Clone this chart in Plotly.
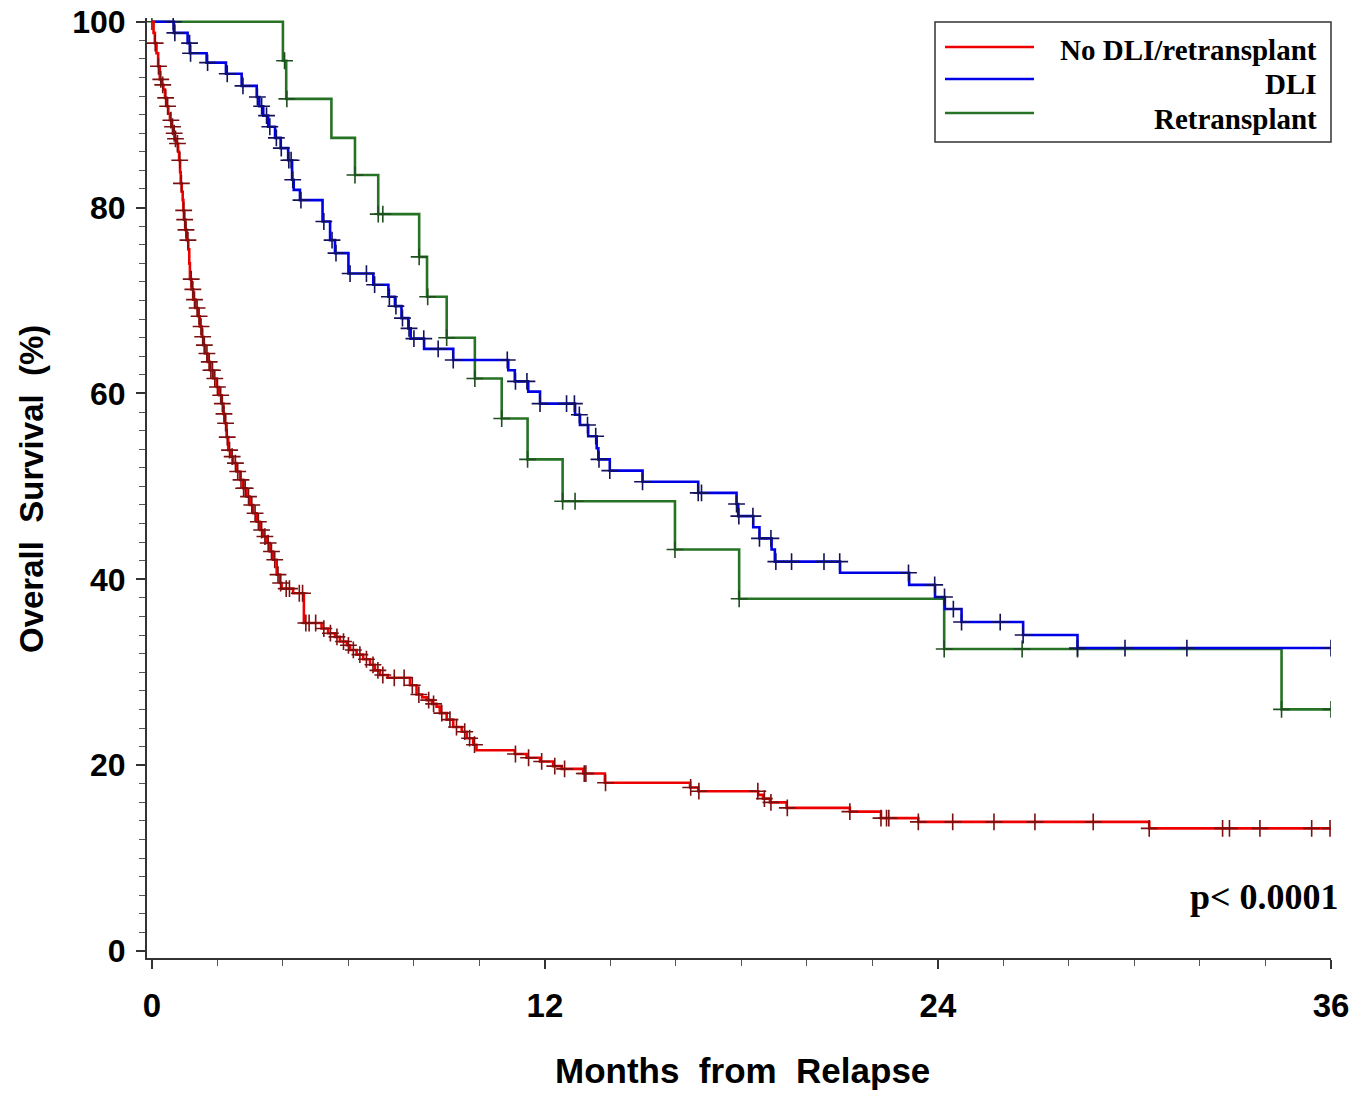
import numpy as np
import plotly.graph_objects as go

# ---------------- data ----------------
series_names = ["No DLI/retransplant", "DLI", "Retransplant"]

red_time = [0, 0.05, 0.09, 0.14, 0.19, 0.24, 0.30, 0.35, 0.40, 0.45, 0.50, 0.55, 0.60, 0.65,
            0.70, 0.75, 0.80, 0.83, 0.86, 0.88, 0.91, 0.94, 0.96, 0.98, 1.02, 1.06, 1.11, 1.14,
            1.16, 1.21, 1.26, 1.33, 1.41, 1.46, 1.52, 1.57, 1.62, 1.70, 1.77, 1.88, 1.98, 2.05,
            2.13, 2.18, 2.23, 2.28, 2.33, 2.40, 2.48, 2.58, 2.69, 2.79, 2.89, 2.99, 3.09, 3.20,
            3.30, 3.40, 3.50, 3.60, 3.70, 3.81, 3.91, 3.96, 4.31, 4.64, 5.18, 5.38, 5.59, 5.74,
            5.95, 6.05, 6.25, 6.45, 6.66, 6.81, 6.96, 7.20, 7.88, 8.08, 8.25, 8.39, 8.55, 8.69,
            8.79, 9.00, 9.20, 9.46, 9.61, 9.81, 9.91, 11.08, 11.44, 11.85, 12.25, 12.51, 13.17,
            13.83, 16.43, 16.68, 18.51, 18.66, 18.87, 19.38, 21.31, 22.26, 23.40, 30.45]
red_surv = [100, 98.8, 97.7, 96.6, 95.2, 93.8, 93.2, 92.7, 91.8, 90.9, 90.1, 89.4, 88.7, 88.0,
            87.4, 86.9, 86.0, 85.1, 83.8, 82.6, 81.7, 80.8, 79.7, 78.7, 77.6, 76.5, 75.5, 74.0,
            72.3, 71.2, 70.1, 69.2, 68.3, 67.2, 66.1, 65.2, 64.3, 63.4, 62.5, 61.6, 60.7, 59.8,
            58.9, 57.8, 56.8, 55.3, 53.9, 53.2, 52.5, 51.6, 50.7, 49.8, 48.9, 48.0, 47.1, 46.2,
            45.3, 44.6, 43.9, 43.0, 42.1, 40.5, 39.6, 39.0, 38.5, 35.3, 34.7, 34.2, 33.8, 33.3,
            32.9, 32.4, 31.9, 31.4, 30.8, 30.2, 29.7, 29.4, 28.6, 27.6, 27.3, 27.0, 26.6, 26.3,
            25.6, 24.9, 24.1, 23.6, 22.9, 22.2, 21.6, 21.2, 20.8, 20.4, 19.9, 19.6, 19.1,
            18.1, 17.6, 17.2, 16.8, 16.4, 16.0, 15.4, 15.0, 14.3, 13.9, 13.2]
red_end = 36.0
red_censor = [0.10, 0.20, 0.27, 0.33, 0.42, 0.48, 0.58, 0.63, 0.68, 0.72, 0.78, 0.85, 0.90, 0.97,
              1.00, 1.04, 1.10, 1.20, 1.25, 1.30, 1.38, 1.44, 1.50, 1.55, 1.60, 1.68, 1.75, 1.80,
              1.85, 1.92, 2.00, 2.10, 2.15, 2.20, 2.25, 2.30, 2.37, 2.45, 2.55, 2.62, 2.72, 2.80,
              2.85, 2.95, 3.05, 3.15, 3.25, 3.35, 3.45, 3.55, 3.65, 3.75, 3.85, 3.93, 4.10, 4.20,
              4.50, 4.60, 4.70, 4.80, 5.00, 5.25, 5.45, 5.65, 5.85, 6.00, 6.15, 6.35, 6.55, 6.75,
              6.90, 7.05, 7.40, 7.70, 7.95, 8.15, 8.45, 8.60, 8.85, 9.10, 9.30, 9.55, 9.70, 9.85,
              11.10, 11.50, 11.90, 12.30, 12.60, 13.20, 13.25, 13.85, 16.45, 16.70, 18.50, 18.70,
              18.90, 19.40, 21.31, 22.26, 22.43, 22.50, 23.40, 24.45, 25.71, 26.96, 28.74, 30.45,
              32.69, 32.90, 33.83, 35.41, 35.97]

blue_time = [0, 0.67, 1.09, 1.16, 1.67, 2.26, 2.74, 3.20, 3.28, 3.40, 3.55, 3.76, 3.93, 4.16,
             4.28, 4.33, 4.52, 5.21, 5.44, 5.59, 6.00, 6.76, 7.22, 7.42, 7.62, 7.83, 7.90, 8.31,
             9.20, 10.88, 11.08, 11.49, 11.85, 12.92, 13.07, 13.32, 13.58, 13.63, 13.98, 14.98,
             16.68, 17.85, 17.90, 18.36, 18.55, 18.92, 19.02, 21.01, 23.12, 23.91, 24.21, 24.72,
             26.60, 28.26]
blue_surv = [100, 98.8, 97.7, 96.6, 95.6, 94.4, 93.1, 91.9, 90.9, 89.9, 88.7, 87.5, 86.4, 85.1,
             83.0, 81.9, 80.8, 78.5, 76.5, 75.1, 72.9, 71.7, 70.4, 69.4, 68.1, 67.0, 65.9, 64.8,
             63.6, 62.5, 61.3, 60.2, 58.9, 57.7, 56.6, 55.4, 54.1, 52.9, 51.7, 50.5,
             49.3, 48.1, 46.8, 45.6, 44.4, 43.2, 41.9, 40.7, 39.4, 38.1, 36.8, 35.4,
             34.0, 32.6]
blue_end = 36.0
blue_censor = [0.65, 0.70, 1.15, 1.18, 1.70, 2.30, 2.78, 3.22, 3.35, 3.50, 3.60, 3.80, 3.95,
               4.18, 4.25, 4.30, 4.55, 5.25, 5.50, 5.62, 6.05, 6.55, 6.80, 7.25, 7.45, 7.65,
               7.85, 8.00, 8.30, 8.74, 9.20, 10.85, 11.10, 11.45, 11.85, 12.66, 12.90, 13.05,
               13.30, 13.55, 13.65, 13.98, 14.98, 16.68, 16.78, 17.85, 17.92, 18.35, 18.55,
               18.90, 19.05, 19.53, 20.52, 21.00, 23.10, 23.90, 24.20, 24.47, 24.72, 25.90,
               26.60, 28.26, 29.71, 31.60, 36.00]

green_time = [0, 4.00, 4.10, 5.48, 6.20, 6.91, 8.16, 8.40, 9.00, 9.86, 10.68, 11.47, 12.54,
              15.97, 17.93, 24.19, 34.49]
green_surv = [100, 95.8, 91.7, 87.5, 83.5, 79.3, 74.7, 70.4, 66.0, 61.6, 57.3, 52.9, 48.4,
              43.2, 37.9, 32.5, 26.0]
green_end = 36.0
green_censor = [0.0, 4.05, 4.12, 6.20, 6.91, 7.05, 8.16, 8.42, 9.00, 9.86, 10.68, 11.47,
                12.54, 12.92, 15.97, 17.93, 24.19, 26.57, 28.26, 34.49, 36.00]

x_tick_vals = [0, 12, 24, 36]
y_tick_vals = [0, 20, 40, 60, 80, 100]
p_value_text = "p< 0.0001"

# ---------------- styling ----------------
line_colors = {"red": "#ee0000", "blue": "#0000e6", "green": "#267326"}
censor_colors = {"red": "#7a1010", "blue": "#12125a", "green": "#1f4f1f"}
SANS = "Liberation Sans, Arial, sans-serif"
SERIF = "Liberation Serif, Times New Roman, serif"

fig = go.Figure()


def add_curve(key, times, surv, end, censors):
    t = np.asarray(times, dtype=float)
    s = np.asarray(surv, dtype=float)
    xs = np.append(t, end)
    ys = np.append(s, s[-1])
    fig.add_trace(go.Scatter(x=xs, y=ys, mode="lines", line_shape="hv",
                             line=dict(color=line_colors[key], width=2.6),
                             showlegend=False, hoverinfo="skip"))
    c = np.asarray(censors, dtype=float)
    idx = np.searchsorted(t, c, side="right") - 1
    fig.add_trace(go.Scatter(x=c, y=s[idx], mode="markers",
                             marker=dict(symbol="cross-thin", size=12,
                                         line=dict(color=censor_colors[key], width=1.6)),
                             showlegend=False, hoverinfo="skip"))


add_curve("green", green_time, green_surv, green_end, green_censor)
add_curve("blue", blue_time, blue_surv, blue_end, blue_censor)
add_curve("red", red_time, red_surv, red_end, red_censor)

W, H = 1368, 1094
L, R, T, B = 147, 37, 18, 136

fig.update_layout(
    width=W, height=H,
    margin=dict(l=L, r=R, t=T, b=B, autoexpand=False),
    plot_bgcolor="white", paper_bgcolor="white",
    showlegend=False,
)

fig.update_xaxes(
    range=[-0.15, 36.0], tickmode="array", tickvals=x_tick_vals,
    ticktext=[str(v) for v in x_tick_vals], automargin=False,
    showgrid=False, zeroline=False, showline=True, linecolor="#333333", linewidth=2,
    ticks="outside", ticklen=9, tickwidth=1.5, tickcolor="#333333",
    minor=dict(dtick=2, tick0=0, ticks="outside", ticklen=6, tickwidth=1.2, tickcolor="#555555"),
    tickfont=dict(family=SANS, size=33, color="black", weight="bold"),
    ticklabelstandoff=8,
)
fig.update_yaxes(
    range=[-0.75, 100.4], tickmode="array", tickvals=y_tick_vals,
    ticktext=[str(v) for v in y_tick_vals], automargin=False,
    showgrid=False, zeroline=False, showline=True, linecolor="#333333", linewidth=2,
    ticks="outside", ticklen=9, tickwidth=1.5, tickcolor="#333333",
    minor=dict(dtick=2, tick0=0, ticks="outside", ticklen=6, tickwidth=1.2, tickcolor="#555555"),
    tickfont=dict(family=SANS, size=32, color="black", weight="bold"),
    ticklabelstandoff=4,
)


def px_x(p):
    return (p - L) / (W - L - R)


def px_y(p):
    return ((H - B) - p) / (H - T - B)


# axis titles
fig.add_annotation(text="Months  from  Relapse", xref="paper", yref="paper",
                   x=px_x(742), y=px_y(1070),
                   showarrow=False, xanchor="center", yanchor="middle",
                   font=dict(family=SANS, size=35, color="black", weight="bold"))
fig.add_annotation(text="Overall  Survival  (%)", xref="paper", yref="paper",
                   x=px_x(31), y=px_y(489),
                   textangle=-90, showarrow=False, xanchor="center", yanchor="middle",
                   font=dict(family=SANS, size=33, color="black", weight="bold"))

# p value
fig.add_annotation(text=p_value_text, xref="paper", yref="paper",
                   x=px_x(1341), y=px_y(897),
                   showarrow=False, xanchor="right", yanchor="middle",
                   font=dict(family=SERIF, size=36, color="black", weight="bold"))

# legend (drawn box, sample lines, right-aligned labels)
fig.add_shape(type="rect", xref="paper", yref="paper",
              x0=px_x(935), x1=px_x(1331), y0=px_y(142), y1=px_y(22),
              line=dict(color="#333333", width=1.5), fillcolor="white", layer="above")
legend_rows = [(series_names[0], "red", 47, 50), (series_names[1], "blue", 79, 84),
               (series_names[2], "green", 113, 119)]
for name, key, ly, ty in legend_rows:
    fig.add_shape(type="line", xref="paper", yref="paper",
                  x0=px_x(945), x1=px_x(1034), y0=px_y(ly), y1=px_y(ly),
                  line=dict(color=line_colors[key], width=2.6), layer="above")
    fig.add_annotation(text=name, xref="paper", yref="paper",
                       x=px_x(1319), y=px_y(ty), showarrow=False,
                       xanchor="right", yanchor="middle",
                       font=dict(family=SERIF, size=29, color="black", weight="bold"))

fig.write_html("out.html", config={"displayModeBar": False},
               post_script="document.body.style.margin='0';document.body.style.overflow='hidden';")
